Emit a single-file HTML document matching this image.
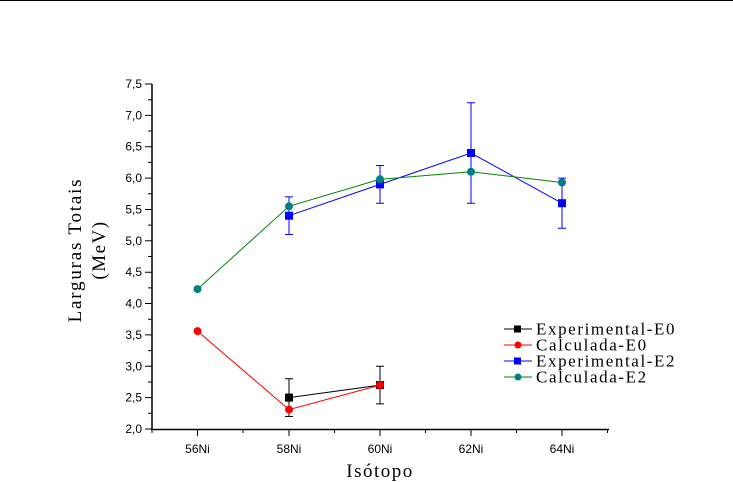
<!DOCTYPE html>
<html><head><meta charset="utf-8"><style>body{margin:0;background:#fff}svg{display:block}</style></head><body>
<svg width="733" height="482" xmlns="http://www.w3.org/2000/svg">
<line x1="0" y1="0.5" x2="733" y2="0.5" stroke="#000" stroke-width="1"/>
<g stroke="#000" stroke-width="1.5" fill="none">
<line x1="152" y1="84" x2="152" y2="429.5"/>
<line x1="151" y1="429.5" x2="609" y2="429.5"/>
</g>
<g stroke="#000" stroke-width="1">
<path d="M145 429H152M145 397.6H152M145 366.3H152M145 334.9H152M145 303.5H152M145 272.2H152M145 240.8H152M145 209.5H152M145 178.1H152M145 146.7H152M145 115.4H152M145 84H152"/>
<path d="M148 413.3H152M148 382H152M148 350.6H152M148 319.2H152M148 287.9H152M148 256.5H152M148 225.1H152M148 193.8H152M148 162.4H152M148 131H152M148 99.7H152"/>
<path d="M197.5 429V436M289 429V436M380 429V436M471 429V436M562 429V436"/>
<path d="M152 429V433M243 429V433M334.5 429V433M425.5 429V433M516.5 429V433M607.5 429V433"/>
</g>
<g font-family="Liberation Sans, sans-serif" font-size="12" text-anchor="end" fill="#000">
<text x="142" y="433">2,0</text><text x="142" y="401.6">2,5</text><text x="142" y="370.3">3,0</text><text x="142" y="338.9">3,5</text><text x="142" y="307.5">4,0</text><text x="142" y="276.2">4,5</text><text x="142" y="244.8">5,0</text><text x="142" y="213.5">5,5</text><text x="142" y="182.1">6,0</text><text x="142" y="150.7">6,5</text><text x="142" y="119.4">7,0</text><text x="142" y="88">7,5</text>
</g>
<g font-family="Liberation Sans, sans-serif" font-size="12" text-anchor="middle">
<text x="197.5" y="453">56Ni</text><text x="289" y="453">58Ni</text><text x="380" y="453">60Ni</text><text x="471" y="453">62Ni</text><text x="562" y="453">64Ni</text>
</g>
<g font-family="Liberation Serif, serif" font-size="19" text-anchor="middle" letter-spacing="1.5">
<text x="380" y="477">Isótopo</text>
<text transform="translate(81,250) rotate(-90)" letter-spacing="1.8">Larguras Totais</text>
<text transform="translate(105,250) rotate(-90)">(MeV)</text>
</g>
<g stroke="#000" stroke-width="1">
<path d="M289 378.8V416.5M285 378.8H293M285 416.5H293M380 366.3V403.9M376 366.3H384M376 403.9H384"/>
</g>
<g stroke="#00f" stroke-width="1">
<path d="M289 196.9V234.5M285 196.9H293M285 234.5H293M380 165.5V203.2M376 165.5H384M376 203.2H384M471 102.8V203.2M467 102.8H475M467 203.2H475M562 178.1V228.2M558 178.1H566M558 228.2H566"/>
</g>
<polyline points="289,397.6 380,385.1" stroke="#000" fill="none"/>
<polyline points="197.5,331.1 289,409.6 380,385.1" stroke="#f00" fill="none"/>
<polyline points="289,215.7 380,184.4 471,153 562,203.2" stroke="#00f" fill="none"/>
<polyline points="197.5,289.1 289,206.3 380,179.3 471,171.8 562,182.5" stroke="#080" fill="none"/>
<g fill="#000"><rect x="285" y="393.6" width="8" height="8"/><rect x="376" y="381.1" width="8" height="8"/></g>
<g fill="#f00"><circle cx="197.5" cy="331.1" r="4"/><circle cx="289" cy="409.6" r="4"/><circle cx="380" cy="385.1" r="4"/></g>
<g fill="#00f"><rect x="285" y="211.7" width="8" height="8"/><rect x="376" y="180.4" width="8" height="8"/><rect x="467" y="149" width="8" height="8"/><rect x="558" y="199.2" width="8" height="8"/></g>
<g fill="#008080"><circle cx="197.5" cy="289.1" r="4"/><circle cx="289" cy="206.3" r="4"/><circle cx="380" cy="179.3" r="4"/><circle cx="471" cy="171.8" r="4"/><circle cx="562" cy="182.5" r="4"/></g>
<g stroke-width="1">
<line x1="504" y1="329" x2="532" y2="329" stroke="#000"/><rect x="514" y="325.5" width="7" height="7" fill="#000"/>
<line x1="504" y1="345" x2="532" y2="345" stroke="#f00"/><circle cx="518" cy="345" r="3.5" fill="#f00"/>
<line x1="504" y1="361" x2="532" y2="361" stroke="#00f"/><rect x="514" y="357.5" width="7" height="7" fill="#00f"/>
<line x1="504" y1="377" x2="532" y2="377" stroke="#080"/><circle cx="518" cy="377" r="3.5" fill="#008080"/>
</g>
<g font-family="Liberation Serif, serif" font-size="17" letter-spacing="1.6">
<text x="536" y="334.5">Experimental-E0</text>
<text x="536" y="350.5">Calculada-E0</text>
<text x="536" y="366.5">Experimental-E2</text>
<text x="536" y="382.5">Calculada-E2</text>
</g>
</svg>
</body></html>
